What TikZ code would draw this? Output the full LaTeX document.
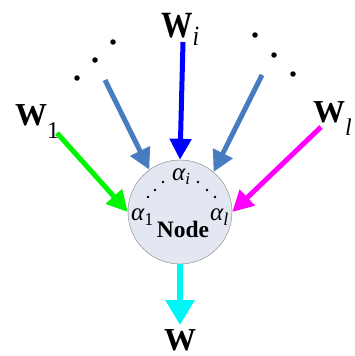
\documentclass[tikz,border=0pt]{standalone}
\usepackage{fontspec}
\setmainfont{Liberation Serif}
\usepackage{tikz}
\usetikzlibrary{arrows.meta,positioning}
\definecolor{inblue}{RGB}{0,0,255}
\definecolor{insteel}{RGB}{72,124,192}
\definecolor{ingreen}{RGB}{0,245,0}
\definecolor{inmagenta}{RGB}{255,0,255}
\definecolor{outcyan}{RGB}{0,245,245}
\definecolor{nodefill}{RGB}{226,231,242}
% lowered subscript: size, drop, text
\newcommand{\lowsub}[3]{\raisebox{-#2}{\fontsize{#1}{#1}\selectfont\mdseries #3}}

\begin{document}
\begin{tikzpicture}[
    x=1pt, y=-1pt,
    wlabel/.style={inner sep=0pt, anchor=base west, font=\fontsize{32}{34}\selectfont\bfseries},
    alabel/.style={inner sep=0pt, anchor=base west, font=\fontsize{25}{27}\selectfont\itshape},
    arrow/.style={-{Triangle[length=21pt, width=21pt]}, line width=5pt},
    bigdot/.style={circle, fill=black, inner sep=0pt, minimum size=5.5pt},
    smalldot/.style={circle, fill=black, inner sep=0pt, minimum size=2.8pt}
  ]
    \useasboundingbox (0,0) rectangle (354,356);

    \node[circle, draw=gray, fill=nodefill, minimum size=104pt, inner sep=0pt] (node) at (180,212) {};
    \node[inner sep=0pt, anchor=base, font=\fontsize{23.5}{25}\selectfont\bfseries] (name) at (183,237) {Node};

    \node[alabel] (ai) at (172,180) {α\lowsub{17pt}{4pt}{\itshape i}};
    \node[alabel] (a1) at (131,220) {α\lowsub{18pt}{5pt}{\upshape 1}};
    \node[alabel] (al) at (210,220) {α\lowsub{18pt}{5pt}{\itshape l}};
    \foreach \x/\y [count=\k] in {163/182, 155/190, 148/197, 198/182, 207/190, 215/197}
      \node[smalldot] (d\k) at (\x,\y) {};

    \node[wlabel, font=\fontsize{37}{39}\selectfont\bfseries, xscale=0.85, transform shape] (wi) at (161,37) {W\lowsub{28pt}{8pt}{\itshape i}};
    \node[wlabel] (w1) at (15,125) {W\lowsub{24pt}{13pt}{1}};
    \node[wlabel] (wl) at (313,122) {W\lowsub{24pt}{13pt}{\itshape l}};
    \node[wlabel, anchor=base, text depth=0pt] (w) at (180,350) {W};

    \foreach \x/\y [count=\k] in {77/78, 95/60, 113/42, 255/35, 274/55, 293/74}
      \node[bigdot] (e\k) at (\x,\y) {};

    \coordinate (si) at (183,42);
    \coordinate (sleft) at (105,80);
    \coordinate (sright) at (262,75);
    \coordinate (s1) at (57,133);
    \coordinate (sl) at (321,127);
    \coordinate (tout) at (180,325);

    \draw[arrow, inblue] (si) -- (node.90);
    \draw[arrow, insteel] (sleft) -- (node.126);
    \draw[arrow, insteel] (sright) -- (node.50);
    \draw[arrow, ingreen] (s1) -- (node.180);
    \draw[arrow, inmagenta] (sl) -- (node.0);
    \draw[-{Triangle[length=25pt, width=28pt]}, line width=6pt, outcyan] (node.270) -- (tout);
  \end{tikzpicture}
\end{document}
